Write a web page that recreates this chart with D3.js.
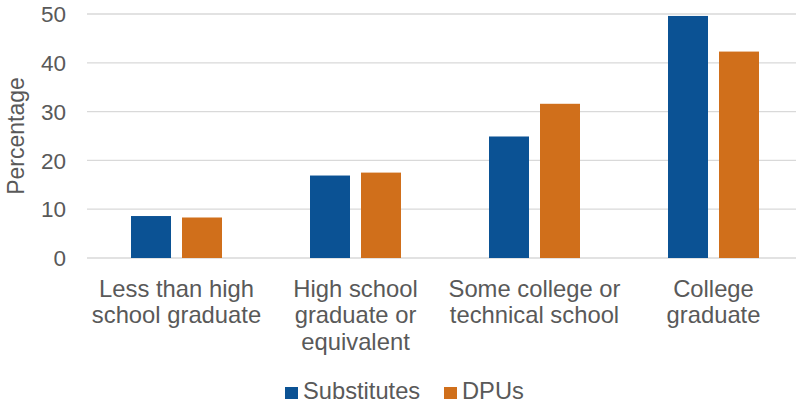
<!DOCTYPE html>
<html>
<head>
<meta charset="utf-8">
<script src="https://cdn.jsdelivr.net/npm/d3@7"></script>
<style>
  body { margin: 0; background: #fff; }
  text { font-family: "Liberation Sans", Arial, sans-serif; fill: #595959; }
</style>
</head>
<body>
<svg id="chart" width="796" height="404"></svg>
<script>
// Chart data
const categories = ["Less than high school graduate", "High school graduate or equivalent",
                    "Some college or technical school", "College graduate"];
const categoryLines = [
    ["Less than high", "school graduate"],
    ["High school", "graduate or", "equivalent"],
    ["Some college or", "technical school"],
    ["College", "graduate"]
];
const seriesNames = ["Substitutes", "DPUs"];
const substitutes = [8.6, 16.9, 24.9, 49.6];
const dpus = [8.3, 17.5, 31.6, 42.3];
const yTicks = [0, 10, 20, 30, 40, 50];

const colors = { Substitutes: "#0B5294", DPUs: "#D06F1B" };

const svg = d3.select("#chart");
const plotLeft = 87, plotRight = 803, plotTop = 14, plotBottom = 258;

// Scales
const x = d3.scaleBand()
    .domain(categories)
    .range([plotLeft, plotRight])
    .paddingInner(0)
    .paddingOuter(0);

const xInner = d3.scaleBand()
    .domain(seriesNames)
    .range([0, 91])
    .paddingInner(11 / 51);

const y = d3.scaleLinear()
    .domain([0, 50])
    .range([plotBottom, plotTop]);

// Gridlines
svg.append("g")
    .selectAll("line")
    .data(yTicks)
    .join("line")
    .attr("x1", plotLeft)
    .attr("x2", 796)
    .attr("y1", d => y(d))
    .attr("y2", d => y(d))
    .attr("stroke", "#d9d9d9")
    .attr("stroke-width", 1.3);

// Y tick labels
svg.append("g")
    .selectAll("text")
    .data(yTicks)
    .join("text")
    .attr("x", 66)
    .attr("y", d => y(d))
    .attr("dy", "0.36em")
    .attr("text-anchor", "end")
    .style("font-size", "22.5px")
    .text(d => d);

// Y axis title
svg.append("text")
    .attr("transform", `translate(24, ${(plotTop + plotBottom) / 2}) rotate(-90)`)
    .attr("text-anchor", "middle")
    .style("font-size", "23px")
    .text("Percentage");

// Bars
const rows = categories.map((c, i) => ({
    category: c,
    values: [
        { series: "Substitutes", value: substitutes[i] },
        { series: "DPUs", value: dpus[i] }
    ]
}));

const groups = svg.append("g")
    .selectAll("g")
    .data(rows)
    .join("g")
    .attr("transform", d => `translate(${x(d.category) + (x.bandwidth() - 91) / 2}, 0)`);

groups.selectAll("rect")
    .data(d => d.values)
    .join("rect")
    .attr("x", d => xInner(d.series))
    .attr("width", xInner.bandwidth())
    .attr("y", d => y(d.value))
    .attr("height", d => y(0) - y(d.value))
    .attr("fill", d => colors[d.series]);

// X labels
const xLabels = svg.append("g")
    .selectAll("text")
    .data(categories)
    .join("text")
    .attr("x", d => x(d) + x.bandwidth() / 2)
    .attr("y", 297)
    .attr("text-anchor", "middle")
    .style("font-size", "23.8px");

xLabels.selectAll("tspan")
    .data((d, i) => categoryLines[i])
    .join("tspan")
    .attr("x", function() { return this.parentNode.getAttribute("x"); })
    .attr("dy", (d, i) => i === 0 ? 0 : 26.3)
    .text(d => d);

// Legend
const legendItems = [
    { name: "Substitutes", x: 285 },
    { name: "DPUs", x: 444 }
];
const legend = svg.append("g")
    .selectAll("g")
    .data(legendItems)
    .join("g")
    .attr("transform", d => `translate(${d.x}, 0)`);

legend.append("rect")
    .attr("x", 0)
    .attr("y", 387)
    .attr("width", 13)
    .attr("height", 12)
    .attr("fill", d => colors[d.name]);

legend.append("text")
    .attr("x", 18)
    .attr("y", 399)
    .style("font-size", "23.7px")
    .text(d => d.name);
</script>
</body>
</html>
